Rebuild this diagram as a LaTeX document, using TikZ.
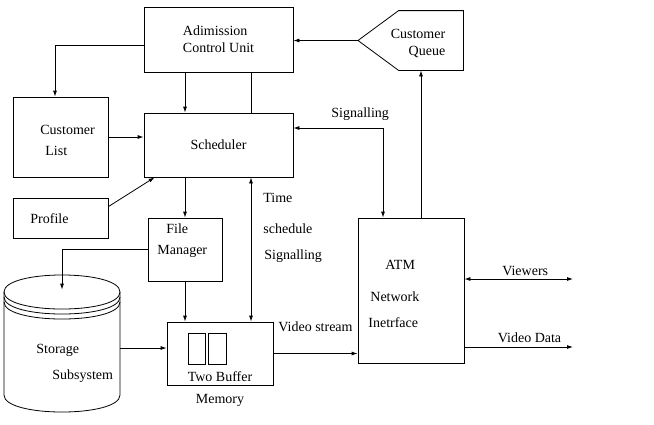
\documentclass[tikz,border=0pt]{standalone}
\usepackage{fontspec}
\setmainfont{Liberation Serif}
\usetikzlibrary{arrows.meta,positioning}

\tikzset{
  blk/.style={draw, inner sep=0pt},
  txt/.style={font=\fontsize{14}{17}\selectfont, inner sep=0pt, align=left},
  lbl/.style={txt, anchor=west},
  arr/.style={-{Latex[length=6pt,width=4pt]}},
  darr/.style={{Latex[length=6pt,width=4pt]}-{Latex[length=6pt,width=4pt]}},
}

\begin{document}
\begin{tikzpicture}[x=1pt,y=-1pt,line width=0.8pt]
\useasboundingbox (0,0) rectangle (654,424);
% blocks
\node[blk, txt, minimum width=149pt, minimum height=65pt] (adm) at (218.5,39.5) {Adimission\\Control Unit};
\node[blk, txt, minimum width=149pt, minimum height=64pt] (sched) at (218.5,145) {Scheduler};
\node[blk, minimum width=95pt, minimum height=80pt] (clist) at (60.5,137) {};
\node[blk, minimum width=95pt, minimum height=40pt] (profile) at (60.5,218) {};
\node[blk, minimum width=74pt, minimum height=63pt] (fm) at (185,249.5) {};
\node[blk, minimum width=106pt, minimum height=63pt] (buf) at (220,353.5) {};
\node[blk, minimum width=106pt, minimum height=145pt] (atm) at (411,290.5) {};
\node[minimum width=64pt, minimum height=59pt, inner sep=0pt] (q) at (431,40.5) {};
\node[minimum width=116pt, minimum height=137pt, inner sep=0pt] (stor) at (62,343.5) {};
\coordinate (qtip) at (358,40.5);
\coordinate (tcol) at (251,0);
\coordinate (vw) at (573,279);
\coordinate (vd) at (573,347);

% queue and storage outlines
\draw (q.north west) -- (q.north east) -- (q.south east) -- (q.south west) -- (qtip) -- cycle;
\draw (4,292) .. controls (4,269.3) and (120,269.3) .. (120,292)
      .. controls (120,314.7) and (4,314.7) .. cycle;
\draw (4,297) .. controls (4,319.7) and (120,319.7) .. (120,297);
\draw (4,302) .. controls (4,324.7) and (120,324.7) .. (120,302);
\draw (4,292) -- (4,395) .. controls (4,417.7) and (120,417.7) .. (120,395) -- (120,292);
\draw (188,333) rectangle (205,364);
\draw (208,333) rectangle (226,364);

% texts
\node[txt, align=right] (qtxt) at (418,43) {Customer\\Queue};
\node[lbl] (cltxt) at (40,140) {Customer\\[4pt]\hspace*{5pt}List};
\node[lbl] (proftxt) at (30,219) {Profile};
\node[lbl] (fmtxt) at (157,240.5) {\hspace*{9pt}File\\[4pt]Manager};
\node[lbl] (stor1) at (36,350) {Storage};
\node[lbl] (stor2) at (52,376) {Subsystem};
\node[txt, anchor=south] (buftxt) at ([yshift=3pt]buf.south) {Two Buffer};
\node[txt, below=9pt of buf] (mem) {Memory};
\node[lbl] (atm1) at (385,265) {ATM};
\node[lbl] (atm2) at (370,297) {Network};
\node[lbl] (atm3) at (368,323) {Inetrface};
\node[lbl] (t1) at (263,198) {Time};
\node[lbl] (t2) at (263,229) {schedule};
\node[lbl] (t3) at (264,256) {Signalling};
\node[lbl] (sig) at (331,114) {Signalling};
\node[lbl] (vstr) at (278,327) {Video stream};

% connectors
\draw[arr] ([yshift=-5.5pt]adm.west) -| ([xshift=-5.5pt]clist.north);
\draw[arr] (adm.south-|fm) -- (sched.north-|fm);
\draw (sched.north-|tcol) -- (adm.south-|tcol);
\draw[arr] (qtip) -- (qtip-|adm.east);
\draw[arr] (clist.east) -- (clist.east-|sched.west);
\draw[arr] ([yshift=-9pt]profile.north east) -- ([xshift=11pt]sched.south west);
\draw[darr] ([yshift=17pt]sched.east) -| ([xshift=-28pt]atm.north);
\draw[arr] ([xshift=10pt]atm.north) -- ([xshift=-10pt]q.south);
\draw[arr] (sched.south-|fm) -- (fm.north);
\draw[darr] (sched.south-|tcol) -- (buf.north-|tcol);
\draw[arr] (fm.west) -| ([yshift=-15pt]stor.north);
\draw[arr] (fm.south) -- (buf.north-|fm);
\draw[arr] ([yshift=-4.5pt]stor.east) -- ([yshift=-4.5pt]stor.east-|buf.west);
\draw[arr] (buf.east) -- (buf.east-|atm.west);
\draw[darr] (atm.east|-vw) -- (vw) node[txt, pos=.56, above=3pt] (vwtxt) {Viewers};
\draw[arr] (atm.east|-vd) -- (vd) node[txt, pos=.6, above=4pt] (vdtxt) {Video Data};
\end{tikzpicture}
\end{document}
